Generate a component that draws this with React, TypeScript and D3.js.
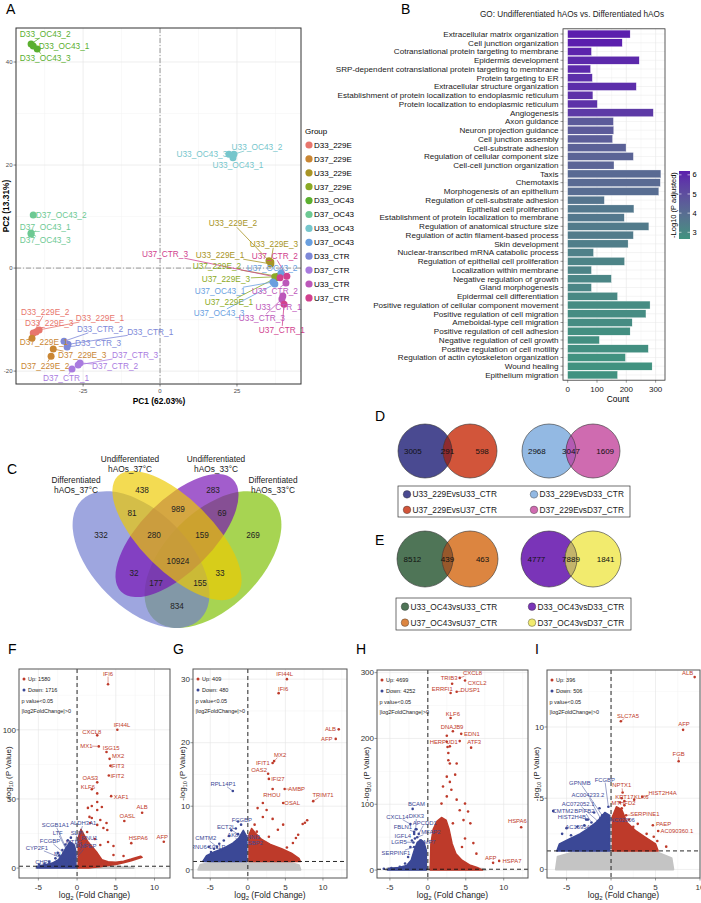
import * as d3 from "d3";

const FONT = "'Liberation Sans', Arial, Helvetica, sans-serif";

// ---------------- A: PCA ----------------
const groups = ["D33_229E", "D37_229E", "U33_229E", "U37_229E", "D33_OC43", "D37_OC43", "U33_OC43", "U37_OC43", "D33_CTR", "D37_CTR", "U33_CTR", "U37_CTR"];
const groupColors = ["#E8766D", "#C98633", "#A89425", "#8BAA25", "#5BAF2F", "#6DC993", "#76C6CC", "#6A9FDF", "#7D88D8", "#A97BDF", "#BC58BA", "#D1418E"];

const pcaSamples = [
  "D33_229E_1", "D33_229E_2", "D33_229E_3", "D37_229E_1", "D37_229E_2", "D37_229E_3",
  "U33_229E_1", "U33_229E_2", "U33_229E_3", "U37_229E_1", "U37_229E_2", "U37_229E_3",
  "D33_OC43_1", "D33_OC43_2", "D33_OC43_3", "D37_OC43_1", "D37_OC43_2", "D37_OC43_3",
  "U33_OC43_1", "U33_OC43_2", "U33_OC43_3", "U37_OC43_1", "U37_OC43_2", "U37_OC43_3",
  "D33_CTR_1", "D33_CTR_2", "D33_CTR_3", "D37_CTR_1", "D37_CTR_2", "D37_CTR_3",
  "U33_CTR_1", "U33_CTR_2", "U33_CTR_3", "U37_CTR_1", "U37_CTR_2", "U37_CTR_3",
];
const pcaPC1 = [-39.3, -41.2, -40.3, -41.6, -35.4, -34.7, 36.0, 35.4, 36.0, 37.7, 38.3, 37.3, -39.9, -41.9, -41.2, -41.9, -41.2, -41.9, 23.7, 24.0, 22.4, 36.7, 39.3, 37.3, -29.9, -31.2, -30.2, -28.6, -26.0, -26.6, 39.9, 40.9, 39.6, 40.3, 41.2, 39.0];
const pcaPC2 = [-12.0, -12.6, -12.4, -13.6, -17.1, -15.7, 0.8, 1.4, 1.2, -1.9, -1.6, -1.7, 42.5, 43.5, 43.1, 6.8, 10.3, 6.6, 21.4, 22.1, 22.1, -2.7, -1.0, -3.1, -14.8, -14.2, -15.3, -19.6, -18.4, -18.8, -5.4, -2.9, -6.0, -7.0, -1.6, -1.9];

// where ggrepel put the text labels (data units, label centre)
const pcaRepelX = [-19.5, -37.3, -36.0, -37.7, -37.3, -25.3, 19.5, 23.7, 37.0, 22.4, 18.5, 21.4, -31.2, -37.3, -37.3, -37.3, -32.1, -37.3, 25.3, 31.5, 13.6, 19.5, 36.4, 19.2, -3.2, -19.5, -20.1, -30.5, -14.6, -8.1, 38.5, 37.3, 33.1, 39.6, 37.3, 1.6];
const pcaRepelY = [-9.7, -8.5, -10.7, -14.4, -19.0, -16.9, 2.5, 8.7, 4.7, -6.6, 0.4, -2.1, 43.1, 45.4, 40.8, 8.0, 10.3, 5.4, 20.0, 23.5, 22.1, -4.5, 0.0, -8.7, -12.4, -11.8, -14.6, -21.4, -19.0, -16.9, -7.6, -4.5, -9.7, -12.0, 2.3, 2.7];

// ---------------- B: GO ----------------
const goTerms = [
  "Extracellular matrix organization", "Cell junction organization", "Cotranslational protein targeting to membrane",
  "Epidermis development", "SRP-dependent cotranslational protein targeting to membrane", "Protein targeting to ER",
  "Extracellular structure organization", "Establishment of protein localization to endoplasmic reticulum",
  "Protein localization to endoplasmic reticulum", "Angiogenesis", "Axon guidance", "Neuron projection guidance",
  "Cell junction assembly", "Cell-substrate adhesion", "Regulation of cellular component size",
  "Cell-cell junction organization", "Taxis", "Chemotaxis", "Morphogenesis of an epithelium",
  "Regulation of cell-substrate adhesion", "Epithelial cell proliferation", "Establishment of protein localization to membrane",
  "Regulation of anatomical structure size", "Regulation of actin filament-based process", "Skin development",
  "Nuclear-transcribed mRNA catabolic process", "Regulation of epithelial cell proliferation", "Localization within membrane",
  "Negative regulation of growth", "Gland morphogenesis", "Epidermal cell differentiation",
  "Positive regulation of cellular component movement", "Positive regulation of cell migration",
  "Ameboidal-type cell migration", "Positive regulation of cell adhesion", "Negative regulation of cell growth",
  "Positive regulation of cell motility", "Regulation of actin cytoskeleton organization", "Wound healing",
  "Epithelium migration",
];
const goCount = [213, 186, 81, 244, 78, 84, 234, 86, 101, 292, 156, 157, 153, 199, 224, 158, 318, 316, 311, 125, 226, 193, 277, 224, 206, 88, 194, 81, 149, 81, 170, 281, 267, 220, 213, 108, 275, 197, 288, 170];
const goLogP = [6.2, 6.2, 6.1, 6.0, 6.0, 5.9, 5.9, 5.8, 5.8, 5.6, 4.6, 4.6, 4.5, 4.4, 4.3, 4.3, 4.1, 4.1, 4.0, 3.7, 3.6, 3.6, 3.5, 3.5, 3.4, 3.3, 3.2, 3.2, 3.1, 3.1, 3.0, 2.9, 2.9, 2.9, 2.8, 2.8, 2.8, 2.7, 2.7, 2.7];
const goTicks = [0, 100, 200, 300];
const goLegendTicks = [3, 4, 5, 6];

// ---------------- C: 4-set Venn ----------------
const quadSets = ["Differentiated\nhAOs_37°C", "Undifferentiated\nhAOs_37°C", "Undifferentiated\nhAOs_33°C", "Differentiated\nhAOs_33°C"];
const quadRegions = ["A", "B", "C", "D", "AB", "AC", "AD", "BC", "BD", "CD", "ABC", "ABD", "ACD", "BCD", "ABCD"];
const quadCounts = [332, 438, 283, 269, 81, 32, 834, 989, 33, 69, 280, 155, 177, 159, 10924];

// ---------------- D / E: pairwise Venns ----------------
const dSets = ["U33_229EvsU33_CTR", "U37_229EvsU37_CTR", "D33_229EvsD33_CTR", "D37_229EvsD37_CTR"];
const dCounts = [[3005, 291, 598], [2968, 3047, 1609]];
const eSets = ["U33_OC43vsU33_CTR", "U37_OC43vsU37_CTR", "D33_OC43vsD33_CTR", "D37_OC43vsD37_CTR"];
const eCounts = [[8512, 439, 463], [4777, 7889, 1841]];

// ---------------- F-I: volcano plots ----------------
type Pt = [number, number];
type Lab = { gene: string; x: number; y: number; lx: number; ly: number };
const pCut = 0.05;

const fCounts = [1580, 1716];
const fGrey: Pt[] = [[-5.3, 0], [-5.2, 1.2], [-3, 1.6], [-1, 2], [0, 2.2], [2, 1.8], [4.5, 1.2], [7, 0.6], [7.3, 0]];
const fBlueCloud: Pt[] = [[-0.15, 0], [-0.15, 12], [-0.4, 17], [-0.9, 19], [-1.4, 15], [-1.9, 10], [-2.4, 6], [-3.2, 3.5], [-4.5, 2], [-5.2, 1.2], [-5.2, 0]];
const fRedCloud: Pt[] = [[0.15, 0], [0.15, 22], [0.5, 28], [0.9, 24], [1.4, 19], [2, 15], [2.6, 11], [3.2, 6], [4, 4.6], [5, 4.2], [6, 5], [7, 6.5], [8.2, 8.6], [8.4, 7.8], [7, 5.3], [6, 3.8], [5, 2.6], [4, 1.8], [3, 1], [2, 0.4], [1.5, 0]];
const fUp: Pt[] = [[2.6, 47.8], [1.9, 44.9], [3.2, 44.2], [1.6, 37.0], [1.9, 36.2], [3.0, 34.8], [3.8, 32.6], [1.7, 32.6], [3.9, 27.5], [1.3, 26.1], [3.4, 29.0], [2.3, 21.0], [3.0, 16.7], [4.7, 15.9], [1.4, 43.5], [2.6, 42.0], [4.0, 18.8], [6.0, 8.7], [4.7, 9.4], [2.6, 31.2], [2.6, 54]];
const fDown: Pt[] = [[-4.9, 2.5], [-4.2, 3], [-3.6, 4.5], [-2.8, 7], [-2.3, 9], [-1.9, 13], [-1.5, 17], [-1.2, 20], [-0.8, 22], [-2.5, 11]];
const fLabels: Lab[] = [
  { gene: "IFI6", x: 4.0, y: 133, lx: 4.0, ly: 140.6 },
  { gene: "IFI44L", x: 5.2, y: 100, lx: 5.8, ly: 103.6 },
  { gene: "CXCL8", x: 2.6, y: 96, lx: 1.9, ly: 98.6 },
  { gene: "MX1", x: 2.8, y: 88, lx: 1.2, ly: 88.4 },
  { gene: "ISG15", x: 3.8, y: 84, lx: 4.4, ly: 87.0 },
  { gene: "MX2", x: 4.2, y: 79, lx: 5.3, ly: 81.2 },
  { gene: "IFIT3", x: 4.3, y: 74, lx: 5.2, ly: 73.9 },
  { gene: "IFIT2", x: 4.1, y: 67, lx: 5.2, ly: 66.7 },
  { gene: "OAS3", x: 2.6, y: 62, lx: 1.7, ly: 65.2 },
  { gene: "KLF6", x: 1.9, y: 57, lx: 1.4, ly: 58.7 },
  { gene: "XAF1", x: 4.4, y: 52, lx: 5.7, ly: 51.4 },
  { gene: "ALB", x: 8.4, y: 40, lx: 8.4, ly: 44.2 },
  { gene: "OASL", x: 6.1, y: 34, lx: 6.5, ly: 37.7 },
  { gene: "HSPA6", x: 7.0, y: 18, lx: 7.9, ly: 21.7 },
  { gene: "AFP", x: 11.2, y: 19, lx: 11.0, ly: 22.5 },
  { gene: "SCGB1A1", x: -1.2, y: 12, lx: -2.8, ly: 31.2 },
  { gene: "ALDH3A1", x: -0.4, y: 10, lx: 0.8, ly: 32.5 },
  { gene: "LTF", x: -1.0, y: 9, lx: -2.5, ly: 25.4 },
  { gene: "SLPI", x: -0.5, y: 9, lx: 0.0, ly: 25.5 },
  { gene: "FCGBP", x: -0.9, y: 7, lx: -3.5, ly: 19.6 },
  { gene: "MT1G", x: -0.6, y: 7, lx: -0.4, ly: 19.0 },
  { gene: "RNU1", x: -0.3, y: 8, lx: 1.6, ly: 21.5 },
  { gene: "CYP2F1", x: -1.5, y: 6, lx: -5.2, ly: 14.5 },
  { gene: "MUC1", x: -1.0, y: 5, lx: -1.9, ly: 10.1 },
  { gene: "ANPEP", x: -0.3, y: 6, lx: 1.2, ly: 15.8 },
  { gene: "CHP2", x: -1.3, y: 3, lx: -4.4, ly: 4.3 },
];

const gCounts = [409, 480];
const gGrey: Pt[] = [[-6.6, 0], [-6.3, 0.8], [-4.5, 1.2], [-2, 1.35], [0, 1.4], [3, 1.35], [5.5, 1.2], [6.8, 0.7], [7, 0]];
const gBlueCloud: Pt[] = [[-0.15, 1.3], [-0.15, 5.2], [-0.6, 6.2], [-1.2, 5], [-2, 4.2], [-3.2, 3.4], [-4.5, 2.8], [-5.5, 2.2], [-6, 1.3]];
const gRedCloud: Pt[] = [[0.15, 1.3], [0.15, 5.5], [0.5, 6.5], [1.0, 5.8], [1.8, 4.8], [3, 4], [4.5, 3.3], [5.8, 2.6], [6.8, 1.8], [7, 1.3]];
const gUp: Pt[] = [[7.9, 7.8], [7.6, 7.4], [7.3, 7.2], [6.7, 5.5], [6.4, 5.0], [6.0, 4.2], [5.2, 3.5], [2.0, 10.5], [2.5, 9.4], [1.3, 9.7], [2.0, 8.3], [0.9, 7.1], [3.3, 8.0], [4.0, 6.3], [1.2, 6.0], [2.8, 5.2], [4.7, 7.1], [1.6, 4.2], [0.7, 5.2]];
const gDown: Pt[] = [[-5.2, 3.6], [-4.9, 2.8], [-4.5, 3.3], [-3.8, 4.1], [-3.2, 4.6], [-2.5, 5.3], [-2.2, 6.2], [-1.6, 6.5], [-1.3, 7.6]];
const gLabels: Lab[] = [
  { gene: "IFI44L", x: 5.2, y: 30.0, lx: 4.9, ly: 30.8 },
  { gene: "IFI6", x: 4.1, y: 27.8, lx: 4.7, ly: 28.4 },
  { gene: "ALB", x: 12.1, y: 22.1, lx: 11.0, ly: 22.1 },
  { gene: "AFP", x: 11.7, y: 20.6, lx: 10.5, ly: 20.6 },
  { gene: "MX2", x: 3.5, y: 17.1, lx: 4.3, ly: 18.1 },
  { gene: "IFIT1", x: 3.3, y: 16.8, lx: 2.0, ly: 16.8 },
  { gene: "OAS2", x: 2.7, y: 15.1, lx: 1.5, ly: 15.7 },
  { gene: "IFI27", x: 2.8, y: 14.3, lx: 4.0, ly: 14.3 },
  { gene: "AMBP", x: 4.9, y: 12.7, lx: 6.5, ly: 12.7 },
  { gene: "RHOU", x: 3.3, y: 12.7, lx: 3.2, ly: 11.8 },
  { gene: "TRIM71", x: 8.7, y: 10.8, lx: 10.0, ly: 11.8 },
  { gene: "OSAL", x: 4.7, y: 10.5, lx: 5.9, ly: 10.5 },
  { gene: "RPL14P1", x: -2.0, y: 12.4, lx: -3.3, ly: 13.5 },
  { gene: "FCGBP", x: -0.9, y: 7.1, lx: -0.8, ly: 7.8 },
  { gene: "ECT2L", x: -1.3, y: 5.6, lx: -2.9, ly: 6.8 },
  { gene: "AK8", x: -1.1, y: 4.3, lx: -2.0, ly: 5.5 },
  { gene: "TNNI3", x: -0.5, y: 4.6, lx: 0.5, ly: 5.2 },
  { gene: "CMTM2", x: -4.1, y: 3.6, lx: -5.6, ly: 5.0 },
  { gene: "RNU6-1011P", x: -3.6, y: 3.1, lx: -5.3, ly: 3.6 },
  { gene: "OSBP2", x: -0.4, y: 3.8, lx: 0.7, ly: 4.2 },
];

const hCounts = [4699, 4252];
const hGrey: Pt[] = [[-5.5, 0], [-5.3, 3], [-3, 4], [0, 5], [3, 4], [6, 3], [7.5, 1.5], [7.6, 0]];
const hBlueCloud: Pt[] = [[-0.2, 0], [-0.2, 30], [-0.5, 42], [-0.9, 46], [-1.4, 42], [-1.8, 30], [-2.2, 15], [-2.8, 7], [-3.8, 4], [-5.2, 2.5], [-5.3, 0]];
const hRedCloud: Pt[] = [[0.3, 0], [0.4, 40], [0.7, 62], [1.2, 74], [1.8, 80], [2.4, 76], [2.8, 62], [3.2, 40], [3.7, 25], [4.5, 15], [5.5, 8], [6.5, 4], [7.2, 0]];
const hUp: Pt[] = [[2.7, 167], [2.9, 162], [3.8, 162], [2.5, 142], [2.9, 134], [3.6, 145], [2.0, 127], [3.1, 122], [2.5, 112], [1.8, 101], [3.8, 107], [4.9, 101], [4.2, 91], [5.3, 89], [4.7, 76], [5.6, 71], [3.3, 71], [6.0, 41], [6.4, 25], [4.5, 35], [4.9, 48], [2.7, 178], [2.5, 195], [2.9, 188], [2.5, 204], [2.6, 187]];
const hDown: Pt[] = [[-5.8, 2], [-4.8, 3], [-3.7, 5], [-3.0, 10], [-2.6, 20], [-2.3, 35], [-2.1, 45], [-1.8, 55], [-1.5, 62]];
const hLabels: Lab[] = [
  { gene: "CXCL8", x: 4.2, y: 292, lx: 5.9, ly: 299 },
  { gene: "TRIB3", x: 3.2, y: 283, lx: 2.8, ly: 292 },
  { gene: "CXCL2", x: 4.9, y: 288, lx: 6.5, ly: 284 },
  { gene: "ERRFI1", x: 3.0, y: 269, lx: 1.9, ly: 275 },
  { gene: "DUSP1", x: 3.8, y: 271, lx: 5.6, ly: 273 },
  { gene: "KLF6", x: 3.0, y: 231, lx: 3.3, ly: 238 },
  { gene: "DNAJB9", x: 3.3, y: 211, lx: 3.2, ly: 218 },
  { gene: "EDN1", x: 4.4, y: 207, lx: 5.8, ly: 207 },
  { gene: "HERPUD1", x: 4.2, y: 196, lx: 2.1, ly: 195 },
  { gene: "ATF3", x: 5.7, y: 186, lx: 6.1, ly: 194 },
  { gene: "HSPA6", x: 12.3, y: 65, lx: 11.8, ly: 74 },
  { gene: "AFP", x: 8.6, y: 11, lx: 8.3, ly: 18 },
  { gene: "HSPA7", x: 9.4, y: 14, lx: 11.1, ly: 14 },
  { gene: "BCAM", x: -2.0, y: 93, lx: -1.5, ly: 100 },
  { gene: "CXCL14", x: -2.3, y: 70, lx: -4.0, ly: 81 },
  { gene: "DKK3", x: -1.6, y: 62, lx: -1.5, ly: 82 },
  { gene: "FBLN1", x: -1.8, y: 58, lx: -3.3, ly: 65 },
  { gene: "APCDD1", x: -1.2, y: 55, lx: -0.4, ly: 72 },
  { gene: "MFAP2", x: -1.4, y: 50, lx: 0.4, ly: 58 },
  { gene: "IGFL4", x: -1.7, y: 48, lx: -3.3, ly: 52 },
  { gene: "MMP7", x: -1.0, y: 45, lx: -0.1, ly: 43 },
  { gene: "LGR5", x: -1.9, y: 42, lx: -3.8, ly: 43 },
  { gene: "SERPINF1", x: -1.8, y: 35, lx: -4.2, ly: 26 },
];

const iCounts = [396, 506];
const iGrey: Pt[] = [[-6.2, 0], [-6, 0.9], [-4, 1.25], [-1, 1.3], [2, 1.3], [5, 1.25], [6.8, 0.8], [7, 0]];
const iBlueCloud: Pt[] = [[-0.15, 1.3], [-0.15, 3.8], [-0.7, 4], [-1.5, 3.4], [-2.5, 2.9], [-3.5, 2.5], [-4.8, 2.1], [-5.8, 1.8], [-6.1, 1.3]];
const iRedCloud: Pt[] = [[0.15, 1.3], [0.15, 3.7], [0.6, 4.4], [1.2, 4.2], [1.8, 3.3], [2.8, 2.7], [4, 2.2], [5, 1.8], [5.3, 1.3]];
const iUp: Pt[] = [[5.2, 2.0], [4.8, 2.3], [4.0, 2.5], [3.3, 2.4], [2.5, 3.0], [2.0, 3.5], [1.5, 4.5], [1.2, 5.0], [1.0, 4.7], [6.2, 1.6], [3.0, 3.2]];
const iDown: Pt[] = [[-6.5, 4.1], [-5.5, 2.5], [-4.5, 2.4], [-3.8, 3.0], [-3.0, 3.1], [-2.6, 3.5], [-1.9, 4.0], [-1.3, 4.3], [-5.0, 2.9]];
const iLabels: Lab[] = [
  { gene: "ALB", x: 9.4, y: 13.5, lx: 8.6, ly: 13.8 },
  { gene: "AFP", x: 8.1, y: 9.8, lx: 8.2, ly: 10.2 },
  { gene: "FGB", x: 7.6, y: 7.6, lx: 7.6, ly: 8.1 },
  { gene: "SLC7A5", x: 1.1, y: 10.4, lx: 1.9, ly: 10.8 },
  { gene: "NPTX1", x: 1.3, y: 5.4, lx: 1.2, ly: 5.9 },
  { gene: "KRT17", x: 1.5, y: 4.8, lx: 1.5, ly: 5.1 },
  { gene: "KLK6", x: 2.6, y: 4.9, lx: 3.4, ly: 5.1 },
  { gene: "HIST2H4A", x: 3.5, y: 5.1, lx: 5.8, ly: 5.4 },
  { gene: "MTHFD2", x: 1.2, y: 4.3, lx: 1.4, ly: 4.7 },
  { gene: "SERPINE1", x: 1.7, y: 3.8, lx: 3.8, ly: 3.9 },
  { gene: "PAEP", x: 4.7, y: 3.1, lx: 5.9, ly: 3.2 },
  { gene: "AC090360.1", x: 5.3, y: 2.7, lx: 7.4, ly: 2.7 },
  { gene: "FCGBP", x: -0.3, y: 4.4, lx: -0.7, ly: 6.3 },
  { gene: "GPNMB", x: -1.0, y: 3.8, lx: -3.5, ly: 6.1 },
  { gene: "AC004233.2", x: -1.2, y: 3.6, lx: -2.6, ly: 5.2 },
  { gene: "AC072052.1", x: -1.5, y: 3.4, lx: -3.7, ly: 4.6 },
  { gene: "CMTM2", x: -6.5, y: 4.1, lx: -5.4, ly: 4.1 },
  { gene: "BPIFB2", x: -2.2, y: 3.3, lx: -3.0, ly: 4.1 },
  { gene: "HIST2H4B", x: -2.8, y: 3.5, lx: -4.4, ly: 3.7 },
  { gene: "LINC02006", x: -0.4, y: 3.4, lx: 1.0, ly: 3.5 },
  { gene: "AC159540.2", x: -1.4, y: 2.9, lx: -3.3, ly: 3.0 },
];

// ---------------- helpers ----------------
function segToBox(px: number, py: number, lx: number, ly: number, hw: number, hh: number, pad: number) {
  const dx = px - lx, dy = py - ly;
  const t = Math.min(dx === 0 ? Infinity : hw / Math.abs(dx), dy === 0 ? Infinity : hh / Math.abs(dy));
  if (t >= 1) return null;
  const sx = lx + dx * t, sy = ly + dy * t;
  const len = Math.hypot(px - sx, py - sy);
  if (len < pad + 3) return null;
  return [sx, sy, px - ((px - sx) / len) * pad, py - ((py - sy) / len) * pad];
}

function PcaPanel() {
  const x = d3.scaleLinear().domain([-46.8, 45.8]).range([16, 301]);
  const y = d3.scaleLinear().domain([-22.5, 46.6]).range([384, 28]);
  const color = d3.scaleOrdinal<string, string>().domain(groups).range(groupColors);
  const grp = (s: string) => s.replace(/_\d$/, "");
  const xMajor = [-25, 0, 25];
  const xMinor = [-37.5, -12.5, 12.5, 37.5];
  const yMajor = [-20, 0, 20, 40];
  const yMinor = [-10, 10, 30];
  return (
    <g>
      <text x={6} y={14} fontSize={14}>A</text>
      {xMinor.map((v) => <line key={"xm" + v} x1={x(v)} x2={x(v)} y1={28} y2={384} stroke="#F3F3F3" strokeWidth={0.5} />)}
      {yMinor.map((v) => <line key={"ym" + v} y1={y(v)} y2={y(v)} x1={16} x2={301} stroke="#F3F3F3" strokeWidth={0.5} />)}
      {xMajor.map((v) => <line key={"xM" + v} x1={x(v)} x2={x(v)} y1={28} y2={384} stroke="#E6E6E6" strokeWidth={0.7} />)}
      {yMajor.map((v) => <line key={"yM" + v} y1={y(v)} y2={y(v)} x1={16} x2={301} stroke="#E6E6E6" strokeWidth={0.7} />)}
      <line x1={x(0)} x2={x(0)} y1={28} y2={384} stroke="#999" strokeWidth={1} strokeDasharray="5,2,1,2" />
      <line y1={y(0)} y2={y(0)} x1={16} x2={301} stroke="#999" strokeWidth={1} strokeDasharray="5,2,1,2" />
      {pcaSamples.map((s, i) => {
        const px = x(pcaPC1[i]), py = y(pcaPC2[i]);
        const lx = x(pcaRepelX[i]), ly = y(pcaRepelY[i]);
        const seg = segToBox(px, py, lx, ly, s.length * 2.5, 4, 1.5);
        return seg ? <line key={"s" + s} x1={seg[0]} y1={seg[1]} x2={seg[2]} y2={seg[3]} stroke={color(grp(s))} strokeWidth={0.8} /> : null;
      })}
      {pcaSamples.map((s, i) => (
        <circle key={"p" + s} cx={x(pcaPC1[i])} cy={y(pcaPC2[i])} r={3.5} fill={color(grp(s))} />
      ))}
      {pcaSamples.map((s, i) => (
        <text key={"t" + s} x={x(pcaRepelX[i])} y={y(pcaRepelY[i])} dy="0.35em" fontSize={8.3} textAnchor="middle" fill={color(grp(s))}>{s}</text>
      ))}
      <rect x={16} y={28} width={285} height={356} fill="none" stroke="#333" strokeWidth={1} />
      {xMajor.map((v) => (
        <g key={"xt" + v}>
          <line x1={x(v)} x2={x(v)} y1={384} y2={386.5} stroke="#333" strokeWidth={0.6} />
          <text x={x(v)} y={393} fontSize={6} textAnchor="middle" fill="#4D4D4D">{v}</text>
        </g>
      ))}
      {yMajor.map((v) => (
        <g key={"yt" + v}>
          <line x1={13.5} x2={16} y1={y(v)} y2={y(v)} stroke="#333" strokeWidth={0.6} />
          <text x={12.5} y={y(v)} dy="0.35em" fontSize={6} textAnchor="end" fill="#4D4D4D">{v}</text>
        </g>
      ))}
      <text x={159} y={404} fontSize={8.4} fontWeight="bold" textAnchor="middle">PC1 (62.03%)</text>
      <text transform="translate(6,206) rotate(-90)" fontSize={8.4} fontWeight="bold" textAnchor="middle" dy="0.35em">PC2 (13.31%)</text>
      <text x={305} y={134} fontSize={8}>Group</text>
      {groups.map((g, i) => (
        <g key={"lg" + g}>
          <circle cx={309} cy={145 + i * 13.9} r={3.6} fill={color(g)} />
          <text x={314} y={145 + i * 13.9} dy="0.35em" fontSize={8}>{g}</text>
        </g>
      ))}
    </g>
  );
}

function GoPanel() {
  const x = d3.scaleLinear().domain([-16, 332]).range([563, 665]);
  const y = d3.scaleBand<string>().domain(goTerms).range([28.8, 380.2]).paddingInner(0.1).paddingOuter(0.15);
  const fill = d3.scaleLinear<string>().domain([2.65, 6.2]).range(["#3F937F", "#5B1FAD"]).interpolate(d3.interpolateLab);
  const cb = d3.scaleLinear().domain([2.65, 6.2]).range([239, 171]);
  const stops = d3.range(0, 1.0001, 0.1);
  const minor = [50, 150, 250];
  return (
    <g>
      <text x={401} y={14} fontSize={14}>B</text>
      <text x={572} y={17} fontSize={8.2} textAnchor="middle" fill="#222">GO: Undifferentiated hAOs vs. Differentiated hAOs</text>
      {minor.map((v) => <line key={"m" + v} x1={x(v)} x2={x(v)} y1={28.8} y2={380.2} stroke="#F2F2F2" strokeWidth={0.5} />)}
      {goTicks.map((v) => <line key={"M" + v} x1={x(v)} x2={x(v)} y1={28.8} y2={380.2} stroke="#E5E5E5" strokeWidth={0.6} />)}
      {goTerms.map((t) => <line key={"h" + t} x1={563} x2={665} y1={y(t)! + y.bandwidth() / 2} y2={y(t)! + y.bandwidth() / 2} stroke="#E8E8E8" strokeWidth={0.5} />)}
      {goTerms.map((t, i) => (
        <rect key={"b" + t} x={x(0)} y={y(t)} width={x(goCount[i]) - x(0)} height={y.bandwidth()} fill={fill(goLogP[i])} stroke="#fff" strokeWidth={0.3} />
      ))}
      <rect x={563} y={28.8} width={102} height={351.4} fill="none" stroke="#333" strokeWidth={0.8} />
      {goTerms.map((t) => (
        <g key={"l" + t}>
          <line x1={560.5} x2={563} y1={y(t)! + y.bandwidth() / 2} y2={y(t)! + y.bandwidth() / 2} stroke="#333" strokeWidth={0.5} />
          <text x={558.5} y={y(t)! + y.bandwidth() / 2} dy="0.35em" fontSize={8.1} textAnchor="end" fill="#1A1A1A">{t}</text>
        </g>
      ))}
      {goTicks.map((v) => (
        <g key={"t" + v}>
          <line x1={x(v)} x2={x(v)} y1={380.2} y2={382.7} stroke="#333" strokeWidth={0.5} />
          <text x={x(v)} y={392} fontSize={8} textAnchor="middle" fill="#1A1A1A">{v}</text>
        </g>
      ))}
      <text x={618} y={402} fontSize={8.4} textAnchor="middle">Count</text>
      <defs>
        <linearGradient id="goGrad" x1="0" y1="1" x2="0" y2="0">
          {stops.map((s) => <stop key={s} offset={s} stopColor={fill(2.65 + s * (6.2 - 2.65))} />)}
        </linearGradient>
      </defs>
      <text transform="translate(673,205) rotate(-90)" fontSize={7.5} textAnchor="middle" dy="0.35em">-Log10 (P adjusted)</text>
      <rect x={679} y={171} width={11} height={68} fill="url(#goGrad)" />
      {goLegendTicks.map((v) => (
        <g key={"c" + v}>
          <line x1={679} x2={681.5} y1={cb(v)} y2={cb(v)} stroke="#fff" strokeWidth={0.6} />
          <line x1={687.5} x2={690} y1={cb(v)} y2={cb(v)} stroke="#fff" strokeWidth={0.6} />
          <text x={692.5} y={cb(v)} dy="0.35em" fontSize={7.5}>{v}</text>
        </g>
      ))}
    </g>
  );
}

function VennQuad() {
  // geometry of VennDiagram's draw.quad.venn, scaled to the panel
  const s = 240, X0 = 57, Y0 = 672.4;
  const P = (u: number, v: number): Pt => [X0 + u * s, Y0 - v * s];
  const ell = [
    { c: P(0.35, 0.47), a: 0.35 * s, b: 0.2 * s, rot: 45, fill: "#707CD0" },
    { c: P(0.5, 0.57), a: 0.35 * s, b: 0.15 * s, rot: 45, fill: "#EECA00" },
    { c: P(0.5, 0.57), a: 0.33 * s, b: 0.15 * s, rot: -45, fill: "#7610B4" },
    { c: P(0.65, 0.47), a: 0.35 * s, b: 0.2 * s, rot: -45, fill: "#7EBF00" },
  ];
  const order = [3, 0, 2, 1];
  const regionPos: Record<string, Pt> = {
    A: [101, 535], B: [142, 490], C: [213, 490], D: [253, 535], AB: [132, 513], AC: [134, 573], AD: [177, 606],
    BC: [178, 509], BD: [220, 573], CD: [222, 513], ABC: [154, 535], ABD: [200, 583], ACD: [156, 583], BCD: [202, 535], ABCD: [178, 561],
  };
  const setPos: Pt[] = [[76, 480], [130, 459], [216, 459], [273, 480]];
  return (
    <g>
      <text x={7} y={474} fontSize={14}>C</text>
      {order.map((k) => {
        const e = ell[k];
        return <ellipse key={k} cx={e.c[0]} cy={e.c[1]} rx={e.a} ry={e.b} transform={`rotate(${e.rot} ${e.c[0]} ${e.c[1]})`} fill={e.fill} fillOpacity={0.68} />;
      })}
      {quadRegions.map((r, i) => (
        <text key={r} x={regionPos[r][0]} y={regionPos[r][1]} dy="0.35em" fontSize={8.2} textAnchor="middle" fill="#222">{quadCounts[i]}</text>
      ))}
      {quadSets.map((name, i) => (
        <text key={name + i} x={setPos[i][0]} y={setPos[i][1]} fontSize={8.3} textAnchor="middle" fill="#222">
          {name.split("\n").map((ln, j) => <tspan key={j} x={setPos[i][0]} dy={j === 0 ? "0.35em" : 10}>{ln}</tspan>)}
        </text>
      ))}
    </g>
  );
}

function VennPair(props: { id: string; cx: [number, number]; cy: number; r: number; colors: [string, string, string]; counts: number[] }) {
  const { id, cx, cy, r, colors, counts } = props;
  const mid = (cx[0] + cx[1]) / 2;
  const pos = [cx[0] - r * 0.45, mid, cx[1] + r * 0.45];
  return (
    <g>
      <defs>
        <clipPath id={id}><circle cx={cx[0]} cy={cy} r={r} /></clipPath>
      </defs>
      <circle cx={cx[0]} cy={cy} r={r} fill={colors[0]} />
      <circle cx={cx[1]} cy={cy} r={r} fill={colors[1]} />
      <circle cx={cx[1]} cy={cy} r={r} fill={colors[2]} clipPath={`url(#${id})`} />
      <circle cx={cx[0]} cy={cy} r={r} fill="none" stroke="#333" strokeWidth={0.6} />
      <circle cx={cx[1]} cy={cy} r={r} fill="none" stroke="#333" strokeWidth={0.6} />
      {counts.map((c, i) => (
        <text key={i} x={pos[i]} y={cy} dy="0.35em" fontSize={8} textAnchor="middle" fill="#111">{c}</text>
      ))}
    </g>
  );
}

function PairLegend(props: { x0: number; x1: number; y0: number; y1: number; names: string[]; colors: string[] }) {
  const { x0, x1, y0, y1, names, colors } = props;
  const rows = [y0 + (y1 - y0) * 0.27, y0 + (y1 - y0) * 0.77];
  const cols = [x0 + 9, x0 + 136];
  return (
    <g>
      <rect x={x0} y={y0} width={x1 - x0} height={y1 - y0} fill="#fff" stroke="#333" strokeWidth={0.7} />
      {names.map((n, i) => {
        const cxp = cols[Math.floor(i / 2)], cyp = rows[i % 2];
        return (
          <g key={n}>
            <circle cx={cxp} cy={cyp} r={3.8} fill={colors[i]} stroke="#333" strokeWidth={0.4} />
            <text x={cxp + 5.5} y={cyp} dy="0.35em" fontSize={8.3} fill="#222">{n}</text>
          </g>
        );
      })}
    </g>
  );
}

function Volcano(props: {
  id: string; letter: string; letterX: number;
  box: { x0: number; x1: number; y0: number; y1: number };
  xDomain: [number, number]; yDomain: [number, number]; xTicks: number[]; yTicks: number[];
  counts: number[]; grey: Pt[]; red: Pt[]; blue: Pt[]; up: Pt[]; down: Pt[]; labels: Lab[];
}) {
  const { id, letter, letterX, box, xDomain, yDomain, xTicks, yTicks, counts, grey, red, blue, up, down, labels } = props;
  const x = d3.scaleLinear().domain(xDomain).range([box.x0, box.x1]);
  const y = d3.scaleLinear().domain(yDomain).range([box.y1, box.y0]);
  const shape = d3.line<Pt>().x((d) => x(d[0])).y((d) => y(d[1])).curve(d3.curveLinearClosed);
  const xs = xTicks[1] - xTicks[0], ys = yTicks[1] - yTicks[0];
  const xMinor = d3.range(xTicks[0] - xs / 2, xDomain[1], xs).filter((v) => v > xDomain[0]);
  const yMinor = d3.range(yTicks[0] - ys / 2, yDomain[1], ys).filter((v) => v > yDomain[0]);
  const RED = "#BE3A2A", BLUE = "#3B4896", GREY = "#C4C4C4";
  const thr = -Math.log10(pCut);
  const W = box.x1 - box.x0, H = box.y1 - box.y0;
  return (
    <g>
      <text x={letterX} y={654} fontSize={14}>{letter}</text>
      <defs>
        <clipPath id={id}><rect x={box.x0} y={box.y0} width={W} height={H} /></clipPath>
      </defs>
      {xMinor.map((v) => <line key={"xm" + v} x1={x(v)} x2={x(v)} y1={box.y0} y2={box.y1} stroke="#F2F2F2" strokeWidth={0.5} />)}
      {yMinor.map((v) => <line key={"ym" + v} y1={y(v)} y2={y(v)} x1={box.x0} x2={box.x1} stroke="#F2F2F2" strokeWidth={0.5} />)}
      {xTicks.map((v) => <line key={"xM" + v} x1={x(v)} x2={x(v)} y1={box.y0} y2={box.y1} stroke="#E4E4E4" strokeWidth={0.6} />)}
      {yTicks.map((v) => <line key={"yM" + v} y1={y(v)} y2={y(v)} x1={box.x0} x2={box.x1} stroke="#E4E4E4" strokeWidth={0.6} />)}
      <g clipPath={`url(#${id})`}>
        <path d={shape(grey)!} fill={GREY} stroke={GREY} strokeWidth={2} strokeLinejoin="round" />
        <path d={shape(blue)!} fill={BLUE} stroke={BLUE} strokeWidth={1.5} strokeLinejoin="round" />
        <path d={shape(red)!} fill={RED} stroke={RED} strokeWidth={1.5} strokeLinejoin="round" />
        {down.map((p, i) => <circle key={"d" + i} cx={x(p[0])} cy={y(p[1])} r={1.3} fill={BLUE} />)}
        {up.map((p, i) => <circle key={"u" + i} cx={x(p[0])} cy={y(p[1])} r={1.3} fill={RED} />)}
        {labels.map((l) => <circle key={"lp" + l.gene} cx={x(l.x)} cy={y(l.y)} r={1.3} fill={l.x < 0 ? BLUE : RED} />)}
        <line x1={x(0)} x2={x(0)} y1={box.y0} y2={box.y1} stroke="#111" strokeWidth={0.9} strokeDasharray="4,3" />
        <line x1={box.x0} x2={box.x1} y1={y(thr)} y2={y(thr)} stroke="#111" strokeWidth={0.9} strokeDasharray="4,3" />
        {labels.map((l) => {
          const seg = segToBox(x(l.x), y(l.y), x(l.lx), y(l.ly), l.gene.length * 1.8, 2.9, 1.2);
          return seg ? <line key={"sg" + l.gene} x1={seg[0]} y1={seg[1]} x2={seg[2]} y2={seg[3]} stroke={l.x < 0 ? BLUE : RED} strokeWidth={0.5} /> : null;
        })}
        {labels.map((l) => (
          <text key={"lt" + l.gene} x={x(l.lx)} y={y(l.ly)} dy="0.35em" fontSize={5.9} textAnchor="middle" fill={l.x < 0 ? BLUE : RED}>{l.gene}</text>
        ))}
      </g>
      <circle cx={box.x0 + 5} cy={box.y0 + 10} r={1.5} fill={RED} />
      <text x={box.x0 + 9} y={box.y0 + 10} dy="0.35em" fontSize={5.5} fill="#222">Up: {counts[0]}</text>
      <circle cx={box.x0 + 5} cy={box.y0 + 21} r={1.5} fill={BLUE} />
      <text x={box.x0 + 9} y={box.y0 + 21} dy="0.35em" fontSize={5.5} fill="#222">Down: {counts[1]}</text>
      <text x={box.x0 + 2.5} y={box.y0 + 32} dy="0.35em" fontSize={5.5} fill="#222">p value&lt;{pCut}</text>
      <text x={box.x0 + 2.5} y={box.y0 + 42} dy="0.35em" fontSize={5.5} fill="#222">|log2FoldChange|&gt;0</text>
      <rect x={box.x0} y={box.y0} width={W} height={H} fill="none" stroke="#555" strokeWidth={1} />
      {xTicks.map((v) => (
        <g key={"xt" + v}>
          <line x1={x(v)} x2={x(v)} y1={box.y1} y2={box.y1 + 2.5} stroke="#555" strokeWidth={0.6} />
          <text x={x(v)} y={box.y1 + 9} dy="0.35em" fontSize={8} textAnchor="middle" fill="#333">{v}</text>
        </g>
      ))}
      {yTicks.map((v) => (
        <g key={"yt" + v}>
          <line x1={box.x0 - 2.5} x2={box.x0} y1={y(v)} y2={y(v)} stroke="#555" strokeWidth={0.6} />
          <text x={box.x0 - 3} y={y(v)} dy="0.35em" fontSize={8} textAnchor="end" fill="#333">{v}</text>
        </g>
      ))}
      <text x={(box.x0 + box.x1) / 2} y={box.y1 + 20} fontSize={8.5} textAnchor="middle" fill="#222">
        log<tspan dy={2} fontSize={6}>2</tspan><tspan dy={-2}> (Fold Change)</tspan>
      </text>
      <text transform={`translate(${box.x0 - 11},${(box.y0 + box.y1) / 2}) rotate(-90)`} fontSize={8} textAnchor="middle" dy="0.35em" fill="#222">
        -log<tspan dy={2} fontSize={5.5}>10</tspan><tspan dy={-2}> (P Value)</tspan>
      </text>
    </g>
  );
}

export default function App() {
  return (
    <svg width={701} height={903} style={{ position: "absolute", left: 0, top: 0, fontFamily: FONT }}>
      <rect width={701} height={903} fill="#fff" />
      <PcaPanel />
      <GoPanel />
      <VennQuad />
      <text x={375} y={421} fontSize={14}>D</text>
      <VennPair id="d1" cx={[425, 470]} cy={451} r={27} colors={["#4A4A91", "#D2553A", "#8E2B2F"]} counts={dCounts[0]} />
      <VennPair id="d2" cx={[549, 593]} cy={451} r={27} colors={["#93B9E3", "#CF6BB0", "#B35BB3"]} counts={dCounts[1]} />
      <PairLegend x0={398} x1={630} y0={486} y1={517} names={dSets} colors={["#4A4A91", "#D2553A", "#93B9E3", "#CF6BB0"]} />
      <text x={375} y={545} fontSize={14}>E</text>
      <VennPair id="e1" cx={[425, 470]} cy={559} r={28} colors={["#4F7557", "#DC8540", "#97582B"]} counts={eCounts[0]} />
      <VennPair id="e2" cx={[549, 593]} cy={559} r={28} colors={["#7A34B8", "#F2EB6E", "#C3B46B"]} counts={eCounts[1]} />
      <PairLegend x0={396} x1={631} y0={598} y1={630} names={eSets} colors={["#4F7557", "#DC8540", "#7A34B8", "#F2EB6E"]} />
      <Volcano id="vf" letter="F" letterX={8} box={{ x0: 19, x1: 170, y0: 669, y1: 878 }} xDomain={[-7.5, 12.0]} yDomain={[-7.2, 144]} xTicks={[-5, 0, 5, 10]} yTicks={[0, 50, 100]} counts={fCounts} grey={fGrey} red={fRedCloud} blue={fBlueCloud} up={fUp} down={fDown} labels={fLabels} />
      <Volcano id="vg" letter="G" letterX={173} box={{ x0: 193, x1: 347, y0: 669, y1: 878 }} xDomain={[-7.3, 13.2]} yDomain={[-1.3, 31.6]} xTicks={[-5, 0, 5, 10]} yTicks={[0, 10, 20, 30]} counts={gCounts} grey={gGrey} red={gRedCloud} blue={gBlueCloud} up={gUp} down={gDown} labels={gLabels} />
      <Volcano id="vh" letter="H" letterX={356} box={{ x0: 377, x1: 528, y0: 670, y1: 878 }} xDomain={[-6.7, 13.2]} yDomain={[-12, 304]} xTicks={[-5, 0, 5, 10]} yTicks={[0, 100, 200, 300]} counts={hCounts} grey={hGrey} red={hRedCloud} blue={hBlueCloud} up={hUp} down={hDown} labels={hLabels} />
      <Volcano id="vi" letter="I" letterX={535} box={{ x0: 547, x1: 700, y0: 670, y1: 878 }} xDomain={[-7.2, 10.0]} yDomain={[-0.6, 14]} xTicks={[-5, 0, 5, 10]} yTicks={[0, 5, 10]} counts={iCounts} grey={iGrey} red={iRedCloud} blue={iBlueCloud} up={iUp} down={iDown} labels={iLabels} />
    </svg>
  );
}
